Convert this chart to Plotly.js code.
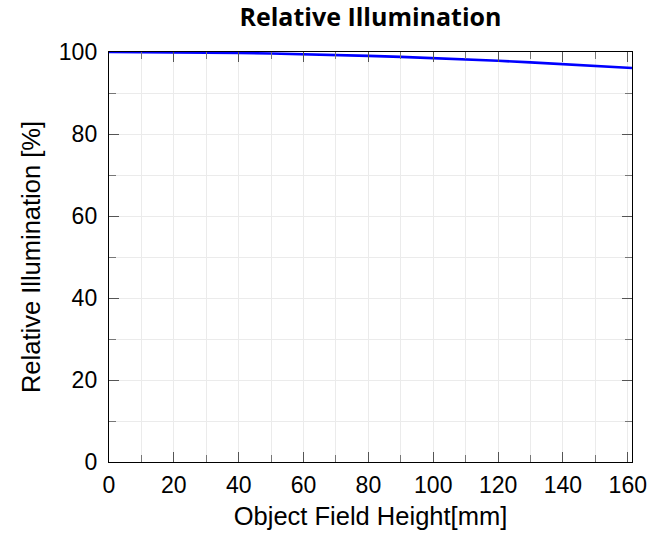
<!DOCTYPE html>
<html>
<head>
<meta charset="utf-8">
<script src="https://cdn.plot.ly/plotly-3.0.1.min.js"></script>
<style>html,body{margin:0;padding:0;background:#fff;}#chart{width:664px;height:535px;}</style>
</head>
<body>
<div id="chart"></div>
<script>
const fieldHeight = [0,10,20,30,40,50,60,70,80,90,100,110,120,130,140,150,160,161.3];
const relIllum = [100,99.98,99.94,99.87,99.76,99.62,99.46,99.27,99.05,98.8,98.52,98.2,97.86,97.48,97.08,96.65,96.18,96.1];
const xTicks = [0,20,40,60,80,100,120,140,160];
const yTicks = [0,20,40,60,80,100];

const tickFont = {family: 'Liberation Sans, Arial, sans-serif', size: 23, color: '#000'};
const titleFont = {family: 'Liberation Sans, Arial, sans-serif', size: 25.5, color: '#000'};
const axisCommon = {
  ticks: 'inside', ticklen: 10, tickwidth: 1, tickcolor: '#555',
  showline: true, linecolor: '#000', linewidth: 1.2, mirror: 'ticks',
  showgrid: true, gridcolor: '#ebebeb', gridwidth: 1,
  zeroline: false, tickfont: tickFont,
  minor: {ticks: 'inside', ticklen: 7, tickcolor: '#777', tickwidth: 1, showgrid: true, gridcolor: '#ebebeb', gridwidth: 1, dtick: 10}
};

const data = [{
  x: fieldHeight, y: relIllum, type: 'scatter', mode: 'lines',
  line: {color: '#0000ff', width: 2.6}, hoverinfo: 'skip'
}];

const layout = {
  width: 664, height: 535,
  margin: {l: 109, r: 32, t: 52, b: 73},
  paper_bgcolor: '#fff', plot_bgcolor: '#fff',
  showlegend: false,
  title: {text: '<b>Relative Illumination</b>', xref: 'paper', x: 0.5, xanchor: 'center', yref: 'container', y: 0.967, yanchor: 'middle',
          font: {family: 'Open Sans, Noto Sans, sans-serif', size: 25, color: '#000'}},
  xaxis: Object.assign({}, axisCommon, {
    range: [0, 161.3], tickvals: xTicks, ticktext: xTicks.map(String), ticklabelstandoff: 2,
    title: {text: 'Object Field Height[mm]', font: titleFont, standoff: 10}
  }),
  yaxis: Object.assign({}, axisCommon, {
    range: [0, 100], tickvals: yTicks, ticktext: yTicks.map(String), ticklabelstandoff: 6,
    title: {text: 'Relative Illumination [%]', font: titleFont, standoff: 11}
  })
};

Plotly.newPlot('chart', data, layout, {staticPlot: true, displayModeBar: false});
</script>
</body>
</html>
